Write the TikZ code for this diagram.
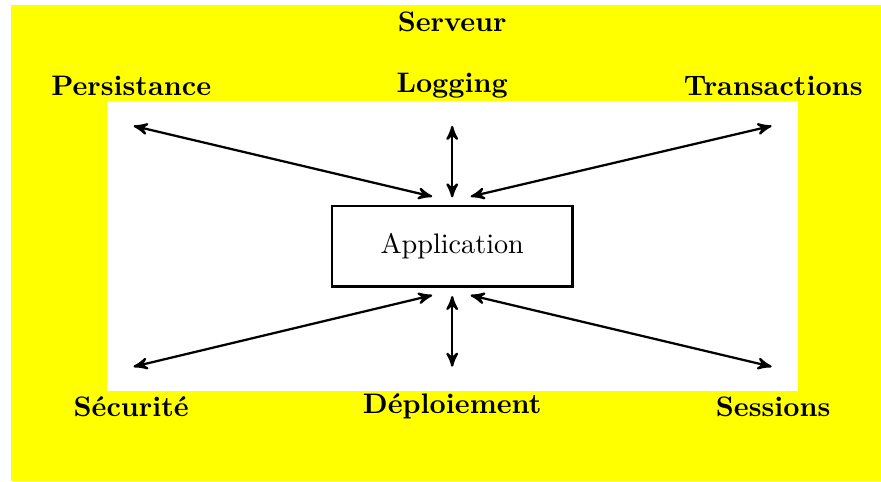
\documentclass[tikz,border=0pt]{standalone}
\usetikzlibrary{arrows}
\definecolor{bgyellow}{RGB}{255,255,0}
\begin{document}
\begin{tikzpicture}[
  >=stealth',
  lbl/.style={font=\bfseries, inner sep=2pt},
  appbox/.style={draw, thick, minimum width=3cm, minimum height=1cm},
  link/.style={<->, thick}
]
\useasboundingbox (-5.635,-2.937) rectangle (5.343,3.069);
\fill[bgyellow] (-5.498,-2.925) rectangle (5.343,3.007);
\fill[white] (-4.3,-1.8) rectangle (4.31,1.81);

\node[appbox] (app) at (0,0) {Application};

\node[lbl] (serveur) at (0,2.8) {Serveur};
\node[lbl] (pers) at (-4,2) {Persistance};
\node[lbl] (log) at (0,2) {Logging};
\node[lbl] (trans) at (4,2) {Transactions};
\node[lbl] (secu) at (-4,-2) {Sécurité};
\node[lbl] (deploi) at (0,-2) {Déploiement};
\node[lbl] (sess) at (4,-2) {Sessions};

\coordinate (ul0) at (-0.25,0.62);
\coordinate (uc0) at (0,0.61);
\coordinate (ur0) at (0.23,0.62);
\coordinate (ll0) at (-0.25,-0.61);
\coordinate (lc0) at (0,-0.62);
\coordinate (lr0) at (0.23,-0.61);
\coordinate (ul1) at (-3.97,1.5);
\coordinate (uc1) at (0,1.5);
\coordinate (ur1) at (3.98,1.5);
\coordinate (ll1) at (-3.97,-1.5);
\coordinate (lc1) at (0,-1.5);
\coordinate (lr1) at (3.98,-1.5);

\draw[link] (ul0) -- (ul1);
\draw[link] (uc0) -- (uc1);
\draw[link] (ur0) -- (ur1);
\draw[link] (ll0) -- (ll1);
\draw[link] (lc0) -- (lc1);
\draw[link] (lr0) -- (lr1);
\end{tikzpicture}
\end{document}
